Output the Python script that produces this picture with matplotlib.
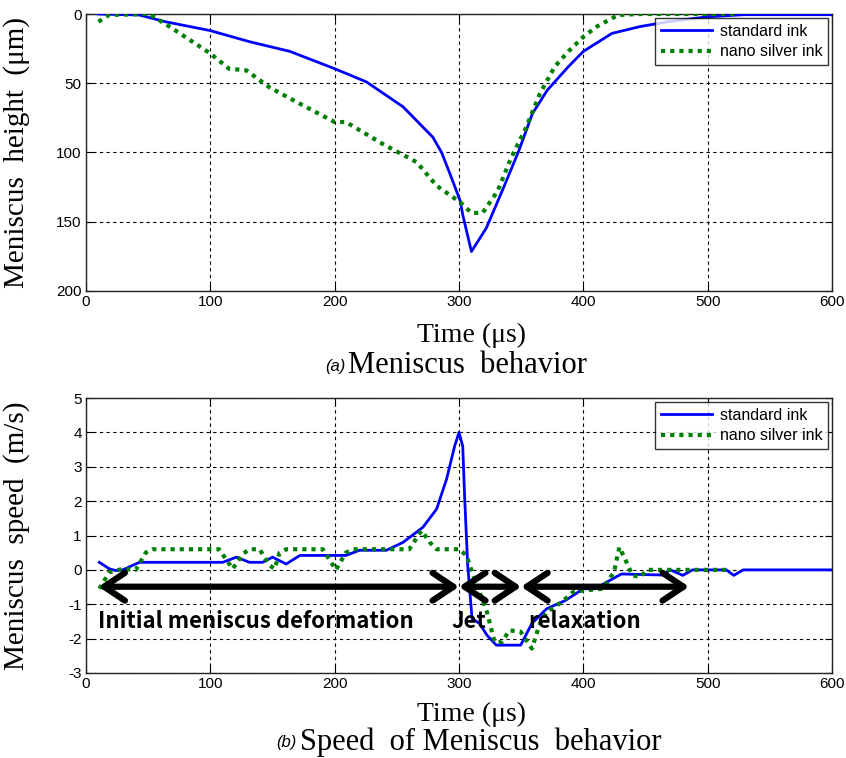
import matplotlib
matplotlib.use("Agg")
import matplotlib.pyplot as plt

plt.rcParams["axes.unicode_minus"] = False

# ---- data: meniscus height (um) ----
h_std_t = [10, 42.7, 64, 100, 131.5, 164, 200, 225.5, 255, 279, 286, 293, 301, 303, 310,
           322, 336, 348, 359, 371, 388, 400, 423, 446, 469, 500, 529, 600]
h_std_v = [0, 0.7, 5.6, 12, 20, 27, 39.5, 49, 67, 89, 100, 116, 135, 145, 171.5,
           154.5, 125, 99, 72, 55, 38, 27, 14, 9, 5.5, 2, 0.5, 0.5]
h_ag_t = [10, 18.5, 50.7, 67, 100, 115, 129, 147.6, 174.5, 200, 209, 239, 266, 282, 301,
          310, 319, 331, 342, 354, 365, 377, 388, 400, 411, 428, 446, 525]
h_ag_v = [5.6, 0.7, 0, 9, 28.5, 39.5, 40.7, 53, 66, 78, 78, 94, 107, 124, 136,
          143.6, 143.6, 128, 103.6, 82, 57.6, 38, 27, 16.5, 9, 0.7, 0, 0]

# ---- data: meniscus speed (m/s) ----
s_std_t = [10.7, 18.8, 24, 29.5, 43, 45.6, 110, 121, 131.5, 142, 150, 161, 172, 209, 220,
           241.6, 255, 271, 282, 290, 296.5, 300, 303, 304.5, 307, 309, 310.5, 316.5, 322.5,
           330, 349.6, 358.6, 370.5, 385.6, 400, 409.6, 418.6, 430.6, 463.8, 470, 480, 487.8,
           515, 521, 528.6, 600]
s_std_v = [0.22, 0.03, -0.02, 0, 0.22, 0.22, 0.22, 0.37, 0.22, 0.22, 0.37, 0.17, 0.42, 0.42, 0.57,
           0.57, 0.8, 1.24, 1.77, 2.64, 3.6, 4.0, 3.6, 2.15, 0.13, -0.74, -1.42, -1.56, -1.9,
           -2.19, -2.19, -1.56, -1.13, -0.89, -0.55, -0.55, -0.36, -0.12, -0.15, 0, -0.16, 0,
           0, -0.16, 0, 0]
s_ag_t = [10.7, 18.8, 29.5, 40, 48, 53.7, 107, 118, 126, 131.5, 139.6, 147.7, 151.7, 155.7, 161,
          190.5, 201, 209, 214.8, 260, 269.8, 276.5, 282, 300, 306, 310.5, 316.5, 322.5, 328.6,
          334.4, 340.6, 349.6, 358.6, 364.6, 370.5, 382.5, 391.5, 400, 415.6, 424.6, 429, 433.5,
          439.5, 445.5, 451.5, 518]
s_ag_v = [-0.55, -0.07, 0.03, 0, 0.5, 0.6, 0.6, 0.03, 0.46, 0.6, 0.6, 0.13, 0.03, 0.5, 0.6,
          0.6, 0, 0.5, 0.6, 0.6, 1.14, 0.8, 0.6, 0.6, 0.42, -0.07, -0.65, -1.23, -2.1,
          -2.1, -1.76, -1.8, -2.29, -1.61, -1.23, -0.94, -0.65, -0.6, -0.55, -0.07, 0.66, 0.32,
          -0.16, -0.21, 0, 0]

series_labels = ["standard ink", "nano silver ink"]
x_ticks = [0, 100, 200, 300, 400, 500, 600]
h_ticks = [0, 50, 100, 150, 200]
s_ticks = [-3, -2, -1, 0, 1, 2, 3, 4, 5]

# phases (start, end) in us, arrow level and text
phases = [(10, 300), (300, 350), (350, 485)]
arrow_y = -0.49
phase_texts = [(10, "Initial meniscus deformation"), (294, "Jet"), (356, "relaxation")]
phase_text_y = -1.5

BLUE = "#0000ff"
GREEN = "#008000"
tick_font = ["Liberation Sans Narrow", "Liberation Sans", "DejaVu Sans"]
serif = ["Liberation Serif", "DejaVu Serif"]

fig = plt.figure(figsize=(8.46, 7.58), dpi=100)
W, H = 846, 758

def frac(l, t, r, b):
    return [l / W, 1 - b / H, (r - l) / W, (b - t) / H]

ax1 = fig.add_axes(frac(86, 14, 832, 291))
ax2 = fig.add_axes(frac(86, 398, 832, 673))

def style(ax):
    ax.set_xlim(0, 600)
    ax.set_xticks(x_ticks)
    ax.grid(True, color="black", linestyle=(0, (3, 3)), linewidth=0.8)
    ax.tick_params(direction="in", length=5, width=0.8, top=True, right=True,
                   labelsize=11, pad=3)
    for lab in ax.get_xticklabels() + ax.get_yticklabels():
        lab.set_family(tick_font)
    for sp in ax.spines.values():
        sp.set_linewidth(1.0)
        sp.set_color("#222222")

def legend(ax):
    leg = ax.legend(loc="upper right", frameon=True, fancybox=False,
                    edgecolor="black", borderpad=0.35, handlelength=3.2, labelspacing=0.35,
                    handletextpad=0.5, borderaxespad=0.25,
                    prop={"family": tick_font, "size": 11.5})
    leg.get_frame().set_linewidth(1.0)

# --- top ---
ax1.plot(h_std_t, h_std_v, color=BLUE, lw=2, label=series_labels[0], zorder=3)
ax1.plot(h_ag_t, h_ag_v, color=GREEN, lw=3, linestyle=(0, (1, 1.2)), label=series_labels[1], zorder=4)
ax1.set_ylim(200, 0)
ax1.set_yticks(h_ticks)
style(ax1)
ax1.set_ylabel("Meniscus  height  (\u03bcm)", family=serif, fontsize=21)
ax1.yaxis.set_label_coords(-0.075, 0.5)
legend(ax1)

# --- bottom ---
ax2.plot(s_std_t, s_std_v, color=BLUE, lw=2, label=series_labels[0], zorder=3)
ax2.plot(s_ag_t, s_ag_v, color=GREEN, lw=3, linestyle=(0, (1, 1.2)), label=series_labels[1], zorder=4)
ax2.set_ylim(-3, 5)
ax2.set_yticks(s_ticks)
style(ax2)
ax2.set_ylabel("Meniscus  speed  (m/s)", family=serif, fontsize=21)
ax2.yaxis.set_label_coords(-0.075, 0.5)
legend(ax2)

for (a, b) in phases:
    ax2.annotate("", xy=(b, arrow_y), xytext=(a, arrow_y),
                 arrowprops=dict(arrowstyle="<->,head_length=0.75,head_width=0.5",
                                 mutation_scale=20,
                                 color="black", lw=4.5, shrinkA=0, shrinkB=0),
                 zorder=6)
for (x, t) in phase_texts:
    ax2.text(x, phase_text_y, t, fontsize=16, fontweight="bold",
             family=["Noto Sans CJK KR", "DejaVu Sans"],
             ha="left", va="center", zorder=7)

# x labels and captions
fig.text(471 / W, 1 - 335 / H, "Time (\u03bcs)", family=serif, fontsize=20, ha="center", va="center")
fig.text(345 / W, 1 - 366 / H, "(a)", family=["Liberation Sans", "DejaVu Sans"], style="italic",
         fontsize=12, ha="right", va="center")
fig.text(348 / W, 1 - 365 / H, "Meniscus  behavior", family=serif, fontsize=22, ha="left", va="center")

fig.text(471 / W, 1 - 714 / H, "Time (\u03bcs)", family=serif, fontsize=20, ha="center", va="center")
fig.text(296 / W, 1 - 743 / H, "(b)", family=["Liberation Sans", "DejaVu Sans"], style="italic",
         fontsize=12, ha="right", va="center")
fig.text(300 / W, 1 - 742 / H, "Speed  of Meniscus  behavior", family=serif, fontsize=22,
         ha="left", va="center")

fig.savefig("out.png", dpi=100)
